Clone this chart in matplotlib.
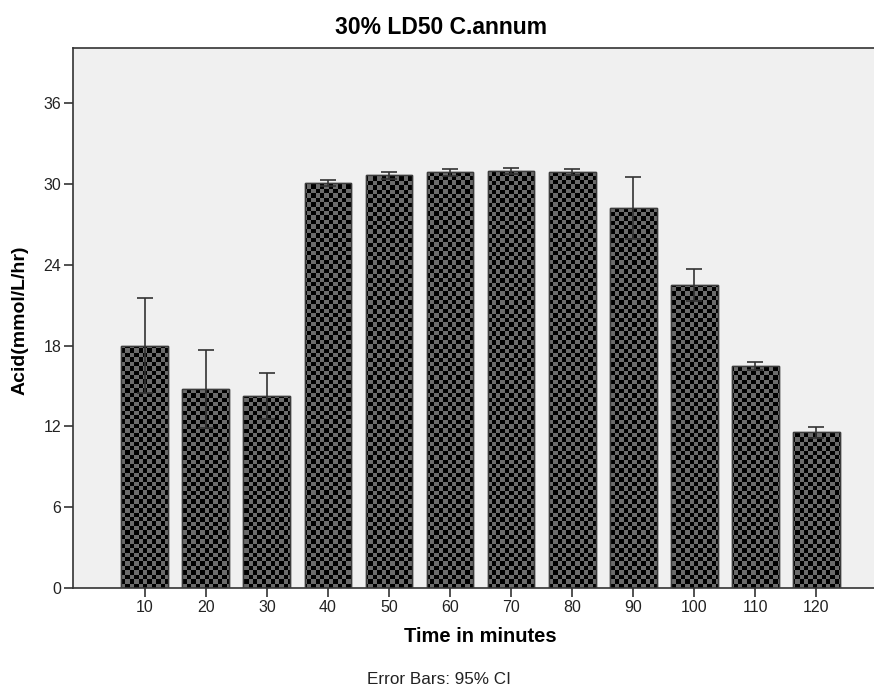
import numpy as np
import matplotlib
matplotlib.use("Agg")
import matplotlib.pyplot as plt

plt.rcParams['font.family'] = ['Liberation Sans', 'DejaVu Sans']

# data
times = ['10', '20', '30', '40', '50', '60', '70', '80', '90', '100', '110', '120']
acid = [18.0, 14.77, 14.25, 30.09, 30.66, 30.86, 30.96, 30.91, 28.21, 22.49, 16.48, 11.56]
ci = [3.5, 2.9, 1.7, 0.2, 0.25, 0.25, 0.25, 0.22, 2.28, 1.2, 0.3, 0.42]

fig = plt.figure(figsize=(8.74, 6.89), dpi=100)
ax = fig.add_axes([0.0835, 0.1466, 0.9165, 0.7837])
ax.set_facecolor('#f0f0f0')

x = np.arange(len(times))
bars = ax.bar(x, acid, width=0.77, color='#6b6b6b', edgecolor='#3c3c3c',
              linewidth=1, zorder=2)

ax.set_xlim(-1.18, 11.95)
ax.set_ylim(0, 40.1)

# checkerboard fill, clipped to each bar
cell = 4.4  # px
x0, x1 = ax.get_xlim()
y0, y1 = ax.get_ylim()
nx = int(874 * 0.9165 / cell)
ny = int(689 * 0.7837 / cell)
board = (np.add.outer(np.arange(ny), np.arange(nx)) % 2).astype(float)
cmap = matplotlib.colors.ListedColormap(['#000000', '#6b6b6b'])
for b in bars:
    im = ax.imshow(board, cmap=cmap, extent=[x0, x1, y0, y1], aspect='auto',
                   interpolation='nearest', zorder=2.5, origin='lower')
    im.set_clip_path(b)
    b2 = plt.Rectangle(b.get_xy(), b.get_width(), b.get_height(), fill=False,
                       edgecolor='#3c3c3c', linewidth=1, zorder=2.6)
    ax.add_patch(b2)

ax.errorbar(x, acid, yerr=ci, fmt='none', ecolor='#333333', elinewidth=1.2,
            capsize=5.8, capthick=1.2, zorder=3)

ax.set_xticks(x)
ax.set_xticklabels(times)
ax.set_yticks([0, 6, 12, 18, 24, 30, 36])
ax.tick_params(axis='both', direction='out', length=6.5, width=1.2, color='#333333',
               labelsize=11.5, labelcolor='#222222', pad=2)

ax.spines['right'].set_visible(False)
for s in ['left', 'bottom', 'top']:
    ax.spines[s].set_color('#333333')
    ax.spines[s].set_linewidth(1.2)

fig.text(441 / 874, 1 - 28 / 689, '30% LD50 C.annum', ha='center', va='center',
         fontsize=16.5, fontweight='bold')
fig.text(480 / 874, 1 - 636 / 689, 'Time in minutes', ha='center', va='center',
         fontsize=14.5, fontweight='bold')
fig.text(20 / 874, 1 - 320 / 689, 'Acid(mmol/L/hr)', ha='center', va='center',
         rotation=90, fontsize=14, fontweight='bold')
fig.text(439 / 874, 1 - 679 / 689, 'Error Bars: 95% CI', ha='center', va='center',
         fontsize=12.3, color='#222222')

fig.savefig('out.png', dpi=100)
